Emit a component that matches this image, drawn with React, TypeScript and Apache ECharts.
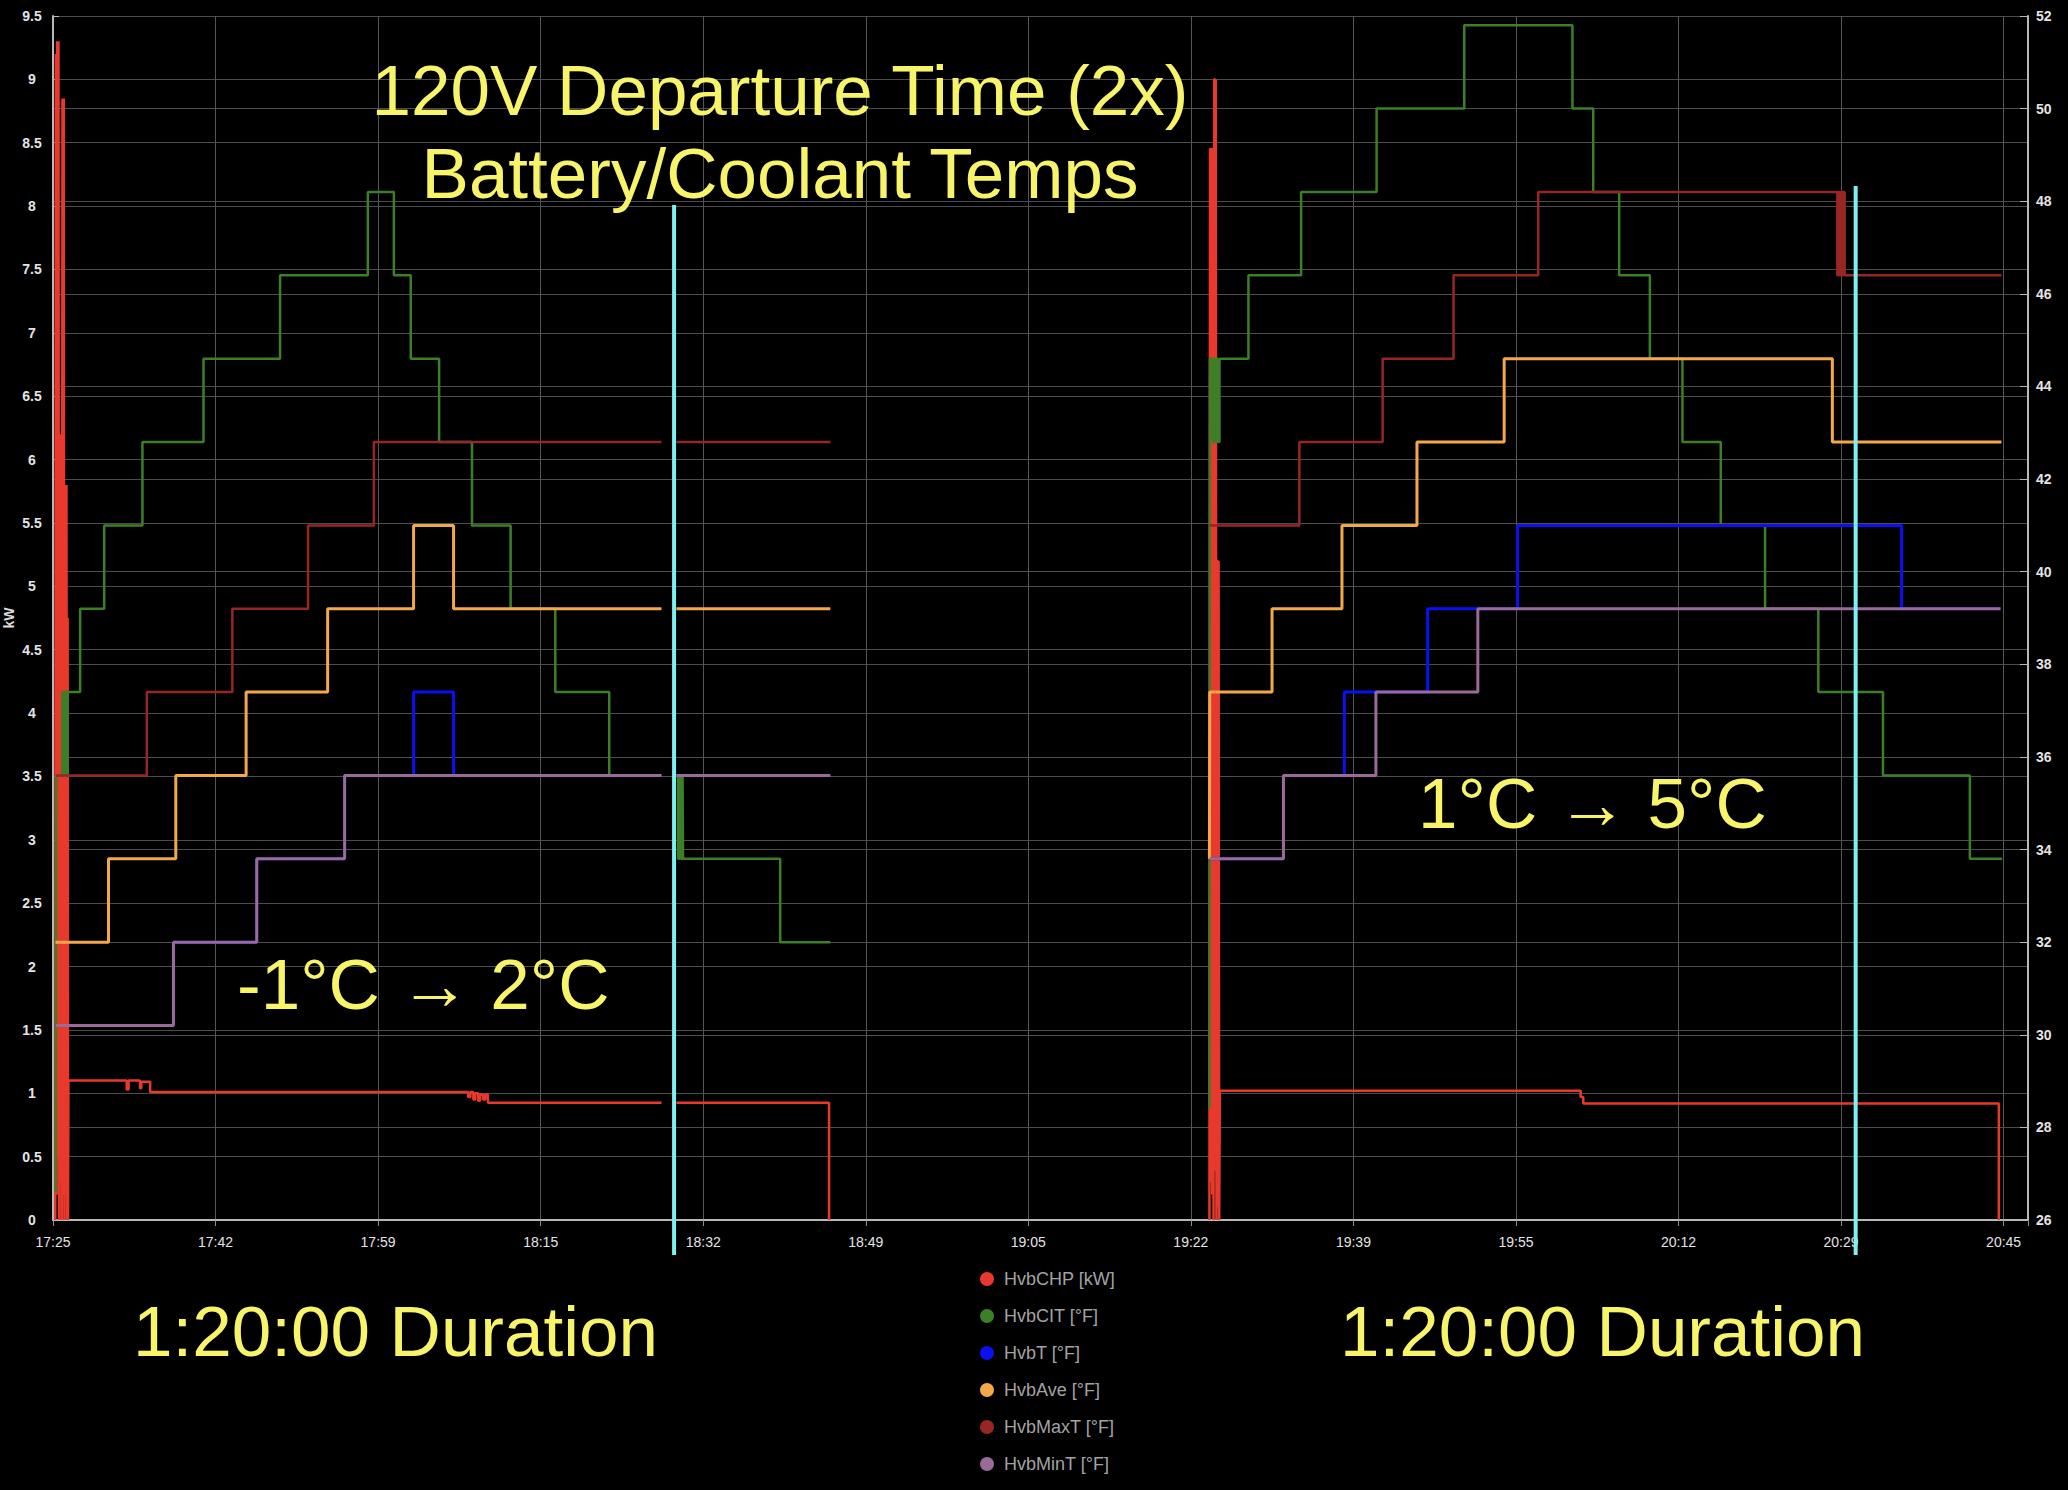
import React, { useEffect, useRef } from 'react';
import * as echarts from 'echarts';

// ---- axes ----
const X_TICK_LABELS = ['17:25', '17:42', '17:59', '18:15', '18:32', '18:49', '19:05', '19:22', '19:39', '19:55', '20:12', '20:29', '20:45'];
const X_INTERVAL_SEC = 1000;
const X_MAX_SEC = 12150;
const KW_MIN = 0;
const KW_MAX = 9.5;
const KW_STEP = 0.5;
const F_MIN = 26;
const F_MAX = 52;
const F_STEP = 2;

// ---- data: [minutes since axis start, value]; null = gap ----
type Pt = [number, number] | null;

const HvbCHP: Pt[] = [
  [0.23, 0], [0.29, 9.2], [0.36, 0.2], [0.43, 9.3], [0.5, 0.5], [0.56, 9.3], [0.63, 0], [0.7, 6.2], [0.77, 0.3], [0.83, 6.2],
  [0.9, 0], [0.97, 8.85], [1.04, 0.2], [1.1, 8.85], [1.17, 0], [1.24, 5.8], [1.31, 0.2], [1.38, 5.8], [1.44, 0], [1.5, 4.75],
  [1.54, 0], [1.58, 1.1],
  [7.56, 1.03], [7.75, 1.1], [8.92, 1.04], [9.05, 1.09], [9.96, 1.01],
  [42.57, 0.97], [42.8, 1.01], [43.1, 0.95], [43.3, 1.0], [43.6, 0.94], [43.8, 0.99], [44.1, 0.95], [44.33, 0.99],
  [44.59, 0.925], [62.39, 0.925],
  null,
  [63.92, 0.925], [79.57, 0], [79.62, 0],
  null,
  [118.57, 0], [118.63, 8.45], [118.71, 0.3], [118.78, 8.45], [118.86, 0.2], [118.93, 4.5], [118.99, 0], [119.06, 9.0],
  [119.14, 0.4], [119.22, 9.0], [119.29, 0], [119.36, 5.2], [119.44, 0.1], [119.51, 5.2], [119.57, 0], [119.64, 1.02],
  [156.63, 0.97], [156.9, 0.92], [199.51, 0], [199.56, 0],
];

const HvbCIT: Pt[] = [
  [0.27, 26.6], [0.33, 35.6], [0.95, 37.4], [1.05, 35.6], [1.2, 37.4], [1.35, 35.6], [1.5, 37.4],
  [2.78, 39.2], [5.25, 41.0], [9.17, 42.8], [15.43, 44.6], [23.28, 46.4], [32.28, 48.2], [34.95, 46.4], [36.68, 44.6],
  [39.59, 42.8], [42.96, 41.0], [46.92, 39.2], [51.5, 37.4], [57.03, 35.6], [62.39, 35.6],
  null,
  [63.92, 35.6], [64.1, 33.8], [64.25, 35.6], [64.4, 33.8], [64.55, 35.6], [64.6, 33.8], [74.56, 32.0], [79.7, 32.0],
  null,
  [118.57, 28.4], [118.62, 44.6], [118.9, 42.8], [119.0, 44.6], [119.15, 42.8], [119.3, 44.6], [119.45, 42.8], [119.6, 44.6],
  [122.57, 46.4], [127.97, 48.2], [135.71, 50.0], [144.7, 51.8], [155.79, 50.0], [157.92, 48.2], [160.58, 46.4],
  [163.73, 44.6], [167.07, 42.8], [171.0, 41.0], [175.54, 39.2], [181.0, 37.4], [187.63, 35.6], [196.54, 33.8], [199.85, 33.8],
];

const HvbT: Pt[] = [
  [0.25, 30.2], [12.35, 32.0], [20.89, 33.8], [29.9, 35.6], [36.97, 37.4], [41.07, 35.6], [62.39, 35.6],
  null,
  [63.92, 35.6], [79.7, 35.6],
  null,
  [118.6, 33.8], [126.16, 35.6], [132.4, 37.4], [140.94, 39.2], [150.16, 41.0], [189.54, 39.2], [199.68, 39.2],
];

const HvbAve: Pt[] = [
  [0.25, 32.0], [5.69, 33.8], [12.59, 35.6], [19.8, 37.4], [28.16, 39.2], [36.97, 41.0], [41.07, 39.2], [62.39, 39.2],
  null,
  [63.92, 39.2], [79.7, 39.2],
  null,
  [118.57, 33.8], [118.6, 37.4], [124.99, 39.2], [132.16, 41.0], [139.85, 42.8], [148.79, 44.6], [182.44, 42.8], [199.78, 42.8],
];

const HvbMaxT: Pt[] = [
  [0.3, 35.6], [9.62, 37.4], [18.39, 39.2], [26.15, 41.0], [32.9, 42.8], [62.39, 42.8],
  null,
  [63.92, 42.8], [79.7, 42.8],
  null,
  [118.6, 41.0], [127.79, 42.8], [136.33, 44.6], [143.6, 46.4], [152.28, 48.2], [182.95, 46.4], [183.05, 48.2],
  [183.2, 46.4], [183.3, 48.2], [183.45, 46.4], [183.55, 48.2], [183.7, 46.4], [199.78, 46.4],
];

const HvbMinT: Pt[] = [
  [0.25, 30.2], [12.35, 32.0], [20.89, 33.8], [29.9, 35.6], [62.39, 35.6],
  null,
  [63.92, 35.6], [79.7, 35.6],
  null,
  [118.6, 33.8], [126.16, 35.6], [135.64, 37.4], [146.09, 39.2], [199.68, 39.2],
];

const SERIES_NAMES = ['HvbCHP [kW]', 'HvbCIT [°F]', 'HvbT [°F]', 'HvbAve [°F]', 'HvbMaxT [°F]', 'HvbMinT [°F]'];
const SERIES_DATA = [HvbCHP, HvbCIT, HvbT, HvbAve, HvbMaxT, HvbMinT];
const SERIES_COLORS = ['#e8392c', '#3c7f26', '#0a10f0', '#f3a84a', '#982624', '#9a6a98'];
const SERIES_WIDTHS = [2.5, 2.5, 3, 3, 2.5, 3];

// annotation markers (minutes since axis start)
const CYAN_MARKER_MIN = [63.68, 184.83];
const CYAN_TOP_PX = [205, 186];

const ANNOTATIONS = [
  { text: '120V Departure Time (2x)', x: 780, y: 90, align: 'center' },
  { text: 'Battery/Coolant Temps', x: 780, y: 173, align: 'center' },
  { text: '-1°C → 2°C', x: 237, y: 984, align: 'left' },
  { text: '1°C → 5°C', x: 1418, y: 803, align: 'left' },
  { text: '1:20:00 Duration', x: 133, y: 1331, align: 'left' },
  { text: '1:20:00 Duration', x: 1340, y: 1331, align: 'left' },
];

const toData = (pts: Pt[]) => pts.map((p) => (p ? [Math.round(p[0] * 600) / 10, p[1]] : [null, null]));

export default function App() {
  const ref = useRef<HTMLDivElement>(null);

  useEffect(() => {
    if (!ref.current) return;
    document.body.style.margin = '0';
    document.body.style.background = '#000';
    const chart = echarts.init(ref.current, null, { renderer: 'svg', width: 2068, height: 1490 });

    const gridLine = { show: true, lineStyle: { color: '#4d4d4d', width: 1 } };
    const axisLine = { show: true, onZero: false, lineStyle: { color: '#b8b8b8', width: 2 } };

    const option: any = {
      animation: false,
      backgroundColor: '#000',
      textStyle: { fontFamily: 'Liberation Sans' },
      grid: { left: 53, top: 16, width: 1975, height: 1204, containLabel: false, outerBoundsMode: 'none' },
      legend: {
        orient: 'vertical',
        left: 975,
        top: 1265,
        itemWidth: 14,
        itemHeight: 14,
        itemGap: 19,
        icon: 'circle',
        textStyle: { color: '#a3a3a3', fontSize: 18, fontFamily: 'Liberation Sans', lineHeight: 17, padding: [0, 0, 0, 5] },
        data: SERIES_NAMES,
      },
      xAxis: {
        type: 'value',
        min: 0,
        max: X_MAX_SEC,
        interval: X_INTERVAL_SEC,
        axisLine,
        axisTick: { show: true, length: 6, lineStyle: { color: '#909090' } },
        axisLabel: {
          color: '#e4e4e4',
          fontSize: 14,
          fontFamily: 'Liberation Sans',
          margin: 15,
          formatter: (v: number) => {
            const k = v / X_INTERVAL_SEC;
            return Number.isInteger(k) && X_TICK_LABELS[k] ? X_TICK_LABELS[k] : '';
          },
        },
        splitLine: { show: true, lineStyle: { color: '#555555', width: 1 } },
      },
      yAxis: [
        {
          type: 'value',
          position: 'left',
          min: KW_MIN,
          max: KW_MAX,
          interval: KW_STEP,
          name: 'kW',
          nameLocation: 'middle',
          nameGap: 37,
          nameMoveOverlap: false,
          nameTextStyle: { color: '#dddddd', fontWeight: 'bold', fontSize: 14, fontFamily: 'Liberation Sans' },
          axisLine,
          axisTick: { show: true, inside: true, length: 6, lineStyle: { color: '#b8b8b8' } },
          axisLabel: { color: '#e4e4e4', fontSize: 14, fontWeight: 'bold', fontFamily: 'Liberation Sans', margin: 21, align: 'center' },
          splitLine: gridLine,
        },
        {
          type: 'value',
          position: 'right',
          min: F_MIN,
          max: F_MAX,
          interval: F_STEP,
          axisLine,
          axisTick: { show: true, inside: true, length: 8, lineStyle: { color: '#b8b8b8' } },
          axisLabel: { color: '#e4e4e4', fontSize: 14, fontWeight: 'bold', fontFamily: 'Liberation Sans', margin: 8 },
          splitLine: gridLine,
        },
      ],
      series: SERIES_NAMES.map((name, i) => ({
        name,
        type: 'line',
        yAxisIndex: i === 0 ? 0 : 1,
        step: 'end',
        symbol: 'none',
        showSymbol: false,
        connectNulls: false,
        silent: true,
        data: toData(SERIES_DATA[i]),
        lineStyle: { color: SERIES_COLORS[i], width: SERIES_WIDTHS[i] },
        itemStyle: { color: SERIES_COLORS[i] },
      })),
    };

    chart.setOption(option);

    const cyan = CYAN_MARKER_MIN.map((m, i) => {
      const px = chart.convertToPixel({ xAxisIndex: 0 } as any, m * 60) as unknown as number;
      return {
        type: 'line',
        z: 100,
        shape: { x1: px, y1: CYAN_TOP_PX[i], x2: px, y2: 1255 },
        style: { stroke: '#7ff0f2', lineWidth: 4 },
      };
    });
    const texts = ANNOTATIONS.map((a) => ({
      type: 'text',
      z: 100,
      x: a.x,
      y: a.y,
      style: {
        text: a.text,
        fill: '#f7f46a',
        fontSize: 71,
        fontFamily: 'Liberation Sans',
        textAlign: a.align,
        align: a.align,
        textVerticalAlign: 'middle',
        verticalAlign: 'middle',
      },
    }));
    chart.setOption({ graphic: { elements: [...texts, ...cyan] } });

    return () => chart.dispose();
  }, []);

  return (
    <div
      ref={ref}
      style={{ position: 'absolute', left: 0, top: 0, width: 2068, height: 1490, background: '#000' }}
    />
  );
}
